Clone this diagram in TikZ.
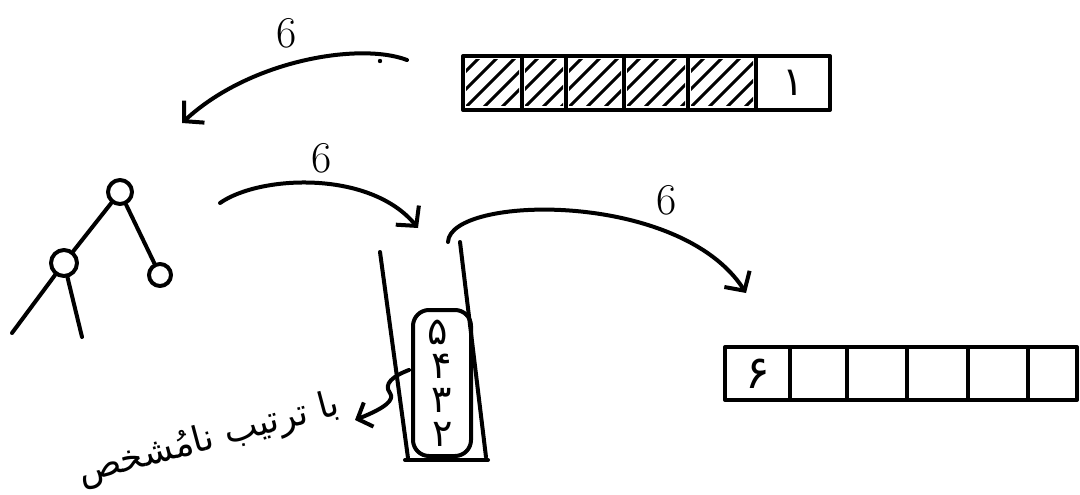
\documentclass[tikz,border=0pt]{standalone}
\usepackage{fontspec}
\usetikzlibrary{arrows.meta}
\newfontfamily\arabicfont[Script=Arabic]{DejaVu Sans}
\TeXXeTstate=1
\begin{document}
\begin{tikzpicture}[x=1pt,y=-1pt,line width=4pt,line cap=round,line join=round,
  cell/.style={draw,rectangle,inner sep=0pt},
  vertex/.style={draw,circle,inner sep=0pt},
  barb/.style={-{Straight Barb[length=14pt,width=30pt]}},
  count/.style={font=\fontsize{44}{44}\selectfont},
  fadigit/.style={font=\arabicfont\fontsize{38}{38}\selectfont,inner sep=0pt},
  hatch/.style={line width=3pt}]
\useasboundingbox (0,0) rectangle (1080,495);

% top array: five used slots and one free slot
\foreach \n/\a/\b in {1/463/522,2/522/566,3/566/624,4/624/688,5/688/756,6/756/830}
  \node[cell,minimum width={\b-\a},minimum height=54] (t\n) at ({(\a+\b)/2},83) {};
\foreach \n in {1,...,5}{
  \begin{scope}
    \clip ([xshift=5pt,yshift=6pt]t\n.south west) rectangle ([xshift=-5pt,yshift=-6pt]t\n.north east);
    \foreach \k in {-36,-18,...,60}
      \draw[hatch] ([xshift=\k pt]t\n.south west) -- ++(60,-60);
  \end{scope}}
\node[fadigit,font=\arabicfont\fontsize{40}{40}\selectfont] (one) at (t6) {۱};

% bottom array
\foreach \n/\a/\b in {1/725/790,2/790/847,3/847/907,4/907/968,5/968/1028,6/1028/1077}
  \node[cell,minimum width={\b-\a},minimum height=53] (b\n) at ({(\a+\b)/2},373.5) {};
\node[fadigit,font=\arabicfont\fontsize{46}{46}\selectfont] (six) at (b1) {۶};

% tree
\node[vertex,minimum size=24] (root) at (120,192) {};
\node[vertex,minimum size=26] (lc) at (64,263) {};
\node[vertex,minimum size=22] (rc) at (160,275) {};
\coordinate (lla) at (12,333);
\coordinate (llb) at (82,337);
\draw (root) -- (lc);
\draw (root) -- (rc);
\draw (lc) -- (lla);
\draw (lc) -- (llb);

% stack walls
\coordinate (wl1) at (380,252);
\coordinate (wl2) at (408,458);
\coordinate (wr1) at (460,242);
\coordinate (wr2) at (486,457);
\coordinate (fl1) at (405,460);
\coordinate (fl2) at (488,460);
\draw (wl1) -- (wl2);
\draw (wr1) -- (wr2);
\draw (fl1) -- (fl2);

% pending group inside the stack
\node[draw,rounded corners=16pt,minimum width=58,minimum height=146,inner sep=0pt] (pend) at (442,383) {};
\node[fadigit] (d5) at (438,332) {۵};
\node[fadigit] (d4) at (442,366) {۴};
\node[fadigit] (d3) at (442,400) {۳};
\node[fadigit] (d2) at (443,434) {۲};

% note about the order
\node[rotate=15,font=\arabicfont\fontsize{36}{36}\selectfont,inner sep=0pt] (note) at (209,440) {\beginR با ترتیب نامُشخص\endR};
\coordinate (wm) at (409,370);
\coordinate (ntip) at (355,420);
\draw[-{Straight Barb[length=12pt,width=26pt]}] (wm) .. controls (393,376) and (383,384) .. (390,393) .. controls (395,400) and (385,408) .. (ntip);

% transfer arrows
\coordinate (a1s) at (407,60);
\coordinate (a1e) at (182,123);
\draw[barb] (a1s) .. controls (360,42) and (250,60) .. (a1e);
\node[count] (c1) at (287,33) {6};
\fill (380,61) circle (2.2pt);

\coordinate (a2s) at (220,203);
\coordinate (a2e) at (418,228);
\draw[barb] (a2s) .. controls (260,175) and (370,170) .. (a2e);
\node[count] (c2) at (322,158) {6};

\coordinate (a3s) at (448,242);
\coordinate (a3e) at (746,293);
\draw[barb] (a3s) .. controls (450,195) and (680,190) .. (a3e);
\node[count] (c3) at (667,200) {6};
\end{tikzpicture}
\end{document}
